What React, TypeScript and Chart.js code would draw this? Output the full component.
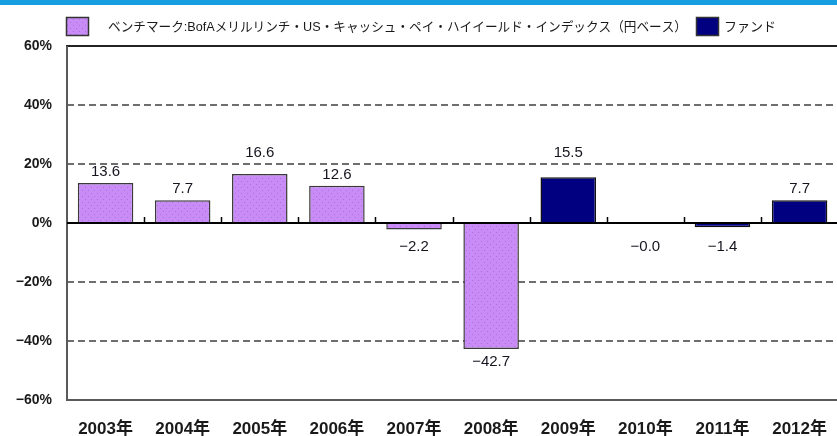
import React, { useEffect, useRef } from "react";
import { Chart, registerables } from "chart.js";

Chart.register(...registerables);

// ---- data ----
const years = ["2003年", "2004年", "2005年", "2006年", "2007年", "2008年", "2009年", "2010年", "2011年", "2012年"];
const benchmarkLabel = "ベンチマーク:BofAメリルリンチ・US・キャッシュ・ペイ・ハイイールド・インデックス（円ベース）";
const fundLabel = "ファンド";
const benchmark = [13.6, 7.7, 16.6, 12.6, -2.2, -42.7, null, null, null, null];
const fund = [null, null, null, null, null, null, 15.5, -0.03, -1.4, 7.7];
const yMin = -60;
const yMax = 60;
const yStep = 20;

const FONT = '"Liberation Sans", "Noto Sans CJK JP", Arial, sans-serif';

const fmtPct = (v: number) => (v < 0 ? "\u2212" : "") + Math.abs(v) + "%";
const fmtVal = (v: number) => (v < 0 ? "\u2212" : "") + Math.abs(v).toFixed(1);

function makePattern(): CanvasPattern | string {
  const c = document.createElement("canvas");
  c.width = 6;
  c.height = 6;
  const g = c.getContext("2d");
  if (!g) return "#c98cf7";
  g.fillStyle = "#c98cf7";
  g.fillRect(0, 0, 6, 6);
  g.fillStyle = "#a872dc";
  g.fillRect(1, 1, 1, 1);
  g.fillRect(4, 4, 1, 1);
  const p = g.createPattern(c, "repeat");
  return p || "#c98cf7";
}

const decorPlugin = {
  id: "decor",
  afterDatasetsDraw(chart: any) {
    const ctx = chart.ctx as CanvasRenderingContext2D;
    const { left, right, top, bottom } = chart.chartArea;
    const ys = chart.scales.y;
    const xs = chart.scales.x;
    const zero = ys.getPixelForValue(0);
    ctx.save();
    ctx.setLineDash([]);
    // frame
    ctx.strokeStyle = "#222";
    ctx.lineWidth = 2;
    ctx.beginPath();
    ctx.moveTo(left - 1, top);
    ctx.lineTo(right, top);
    ctx.stroke();
    ctx.strokeStyle = "#5a5a5a";
    ctx.beginPath();
    ctx.moveTo(left, top);
    ctx.lineTo(left, bottom);
    ctx.lineTo(right, bottom);
    ctx.stroke();
    // zero line
    ctx.strokeStyle = "#000";
    ctx.lineWidth = 2;
    ctx.beginPath();
    ctx.moveTo(left, zero);
    ctx.lineTo(right, zero);
    ctx.stroke();
    // category tick marks
    ctx.lineWidth = 1.5;
    const n = chart.data.labels.length;
    for (let i = 0; i < n - 1; i++) {
      const x = Math.round((xs.getPixelForValue(i) + xs.getPixelForValue(i + 1)) / 2) + 0.5;
      ctx.beginPath();
      ctx.moveTo(x, zero);
      ctx.lineTo(x, zero - 6);
      ctx.stroke();
    }
    // value labels
    const gridPx = [20, 40, -20, -40].map((v) => ys.getPixelForValue(v));
    ctx.font = "15px " + FONT;
    ctx.fillStyle = "#15151f";
    ctx.textAlign = "center";
    ctx.textBaseline = "middle";
    chart.data.datasets.forEach((ds: any, di: number) => {
      const meta = chart.getDatasetMeta(di);
      meta.data.forEach((el: any, i: number) => {
        const v = ds.data[i];
        if (v === null || v === undefined) return;
        const p = el.getProps(["x", "y"], true);
        let cy: number;
        if (v >= 0) {
          cy = p.y - 11;
          const g = gridPx.find((gp: number) => Math.abs(gp - cy) < 6);
          if (g !== undefined) cy = g - 11;
        } else {
          cy = Math.max(p.y + 13, zero + 24);
        }
        ctx.fillText(fmtVal(v), p.x, cy);
      });
    });
    ctx.restore();
  },
  afterDraw(chart: any) {
    const ctx = chart.ctx as CanvasRenderingContext2D;
    const left = chart.chartArea.left;
    ctx.save();
    ctx.font = "13px " + FONT;
    ctx.textBaseline = "middle";
    ctx.textAlign = "left";
    const boxY = 17;
    const boxW = 23;
    const boxH = 19;
    const cy = 27;
    // item 1
    let x = left - 1;
    const ds0 = chart.data.datasets[0];
    ctx.fillStyle = ds0.backgroundColor;
    ctx.fillRect(x, boxY, boxW, boxH);
    ctx.strokeStyle = "#333";
    ctx.lineWidth = 1.5;
    ctx.strokeRect(x + 0.5, boxY + 0.5, boxW - 1, boxH - 1);
    x += boxW + 19;
    ctx.fillStyle = "#1a1a1a";
    const w1 = Math.min(ctx.measureText(ds0.label).width, 579);
    ctx.fillText(ds0.label, x, cy, 579);
    x += w1 + 9;
    // item 2
    const ds1 = chart.data.datasets[1];
    ctx.fillStyle = ds1.backgroundColor;
    ctx.fillRect(x, boxY, boxW, boxH);
    ctx.strokeStyle = "#333";
    ctx.strokeRect(x + 0.5, boxY + 0.5, boxW - 1, boxH - 1);
    x += boxW + 5;
    ctx.fillStyle = "#1a1a1a";
    ctx.fillText(ds1.label, x, cy);
    ctx.restore();
  },
};

export default function App() {
  const ref = useRef<HTMLCanvasElement | null>(null);

  useEffect(() => {
    const canvas = ref.current;
    if (!canvas) return;
    Chart.defaults.font.family = FONT;
    const pattern = makePattern();
    const chart = new Chart(canvas, {
      type: "bar",
      data: {
        labels: years,
        datasets: [
          {
            label: benchmarkLabel,
            data: benchmark as any,
            backgroundColor: pattern as any,
            borderColor: "#3a3a3a",
            borderWidth: 1.5,
            barPercentage: 0.72,
            categoryPercentage: 1,
            grouped: false,
          } as any,
          {
            label: fundLabel,
            data: fund as any,
            backgroundColor: "#000080",
            borderColor: "#111",
            borderWidth: 1.5,
            barPercentage: 0.72,
            categoryPercentage: 1,
            grouped: false,
          } as any,
        ],
      },
      options: {
        responsive: false,
        animation: false,
        layout: { padding: { top: 46, left: 0, right: 0, bottom: 0 } },
        plugins: { legend: { display: false }, tooltip: { enabled: false } },
        scales: {
          x: {
            offset: true,
            grid: { display: false, drawTicks: false },
            border: { display: false },
            ticks: {
              padding: 19,
              autoSkip: false,
              maxRotation: 0,
              color: "#1a1a1a",
              font: { size: 17, weight: "bold" },
            },
            afterFit: (s: any) => {
              s.height = 36;
            },
          },
          y: {
            min: yMin,
            max: yMax,
            grid: {
              drawTicks: false,
              lineWidth: 2,
              color: (c: any) => {
                const v = c.tick ? c.tick.value : 0;
                return v === 0 || v === yMin || v === yMax ? "rgba(0,0,0,0)" : "#6e6e6e";
              },
            },
            border: { display: false, dash: [7, 4] },
            ticks: {
              stepSize: yStep,
              padding: 15,
              color: "#1a1a1a",
              font: { size: 14, weight: "bold" },
              callback: (v: any) => fmtPct(Number(v)),
            },
            afterFit: (s: any) => {
              s.width = 67;
            },
          },
        },
      } as any,
      plugins: [decorPlugin],
    });
    return () => chart.destroy();
  }, []);

  return (
    <div
      style={{
        position: "fixed",
        left: 0,
        top: 0,
        width: 837,
        height: 436,
        overflow: "hidden",
        background: "#fff",
      }}
    >
      <div style={{ position: "absolute", left: 0, top: 0, width: 837, height: 5, background: "#169ee0" }} />
      <canvas ref={ref} width={846} height={436} style={{ display: "block", width: 846, height: 436 }} />
    </div>
  );
}
